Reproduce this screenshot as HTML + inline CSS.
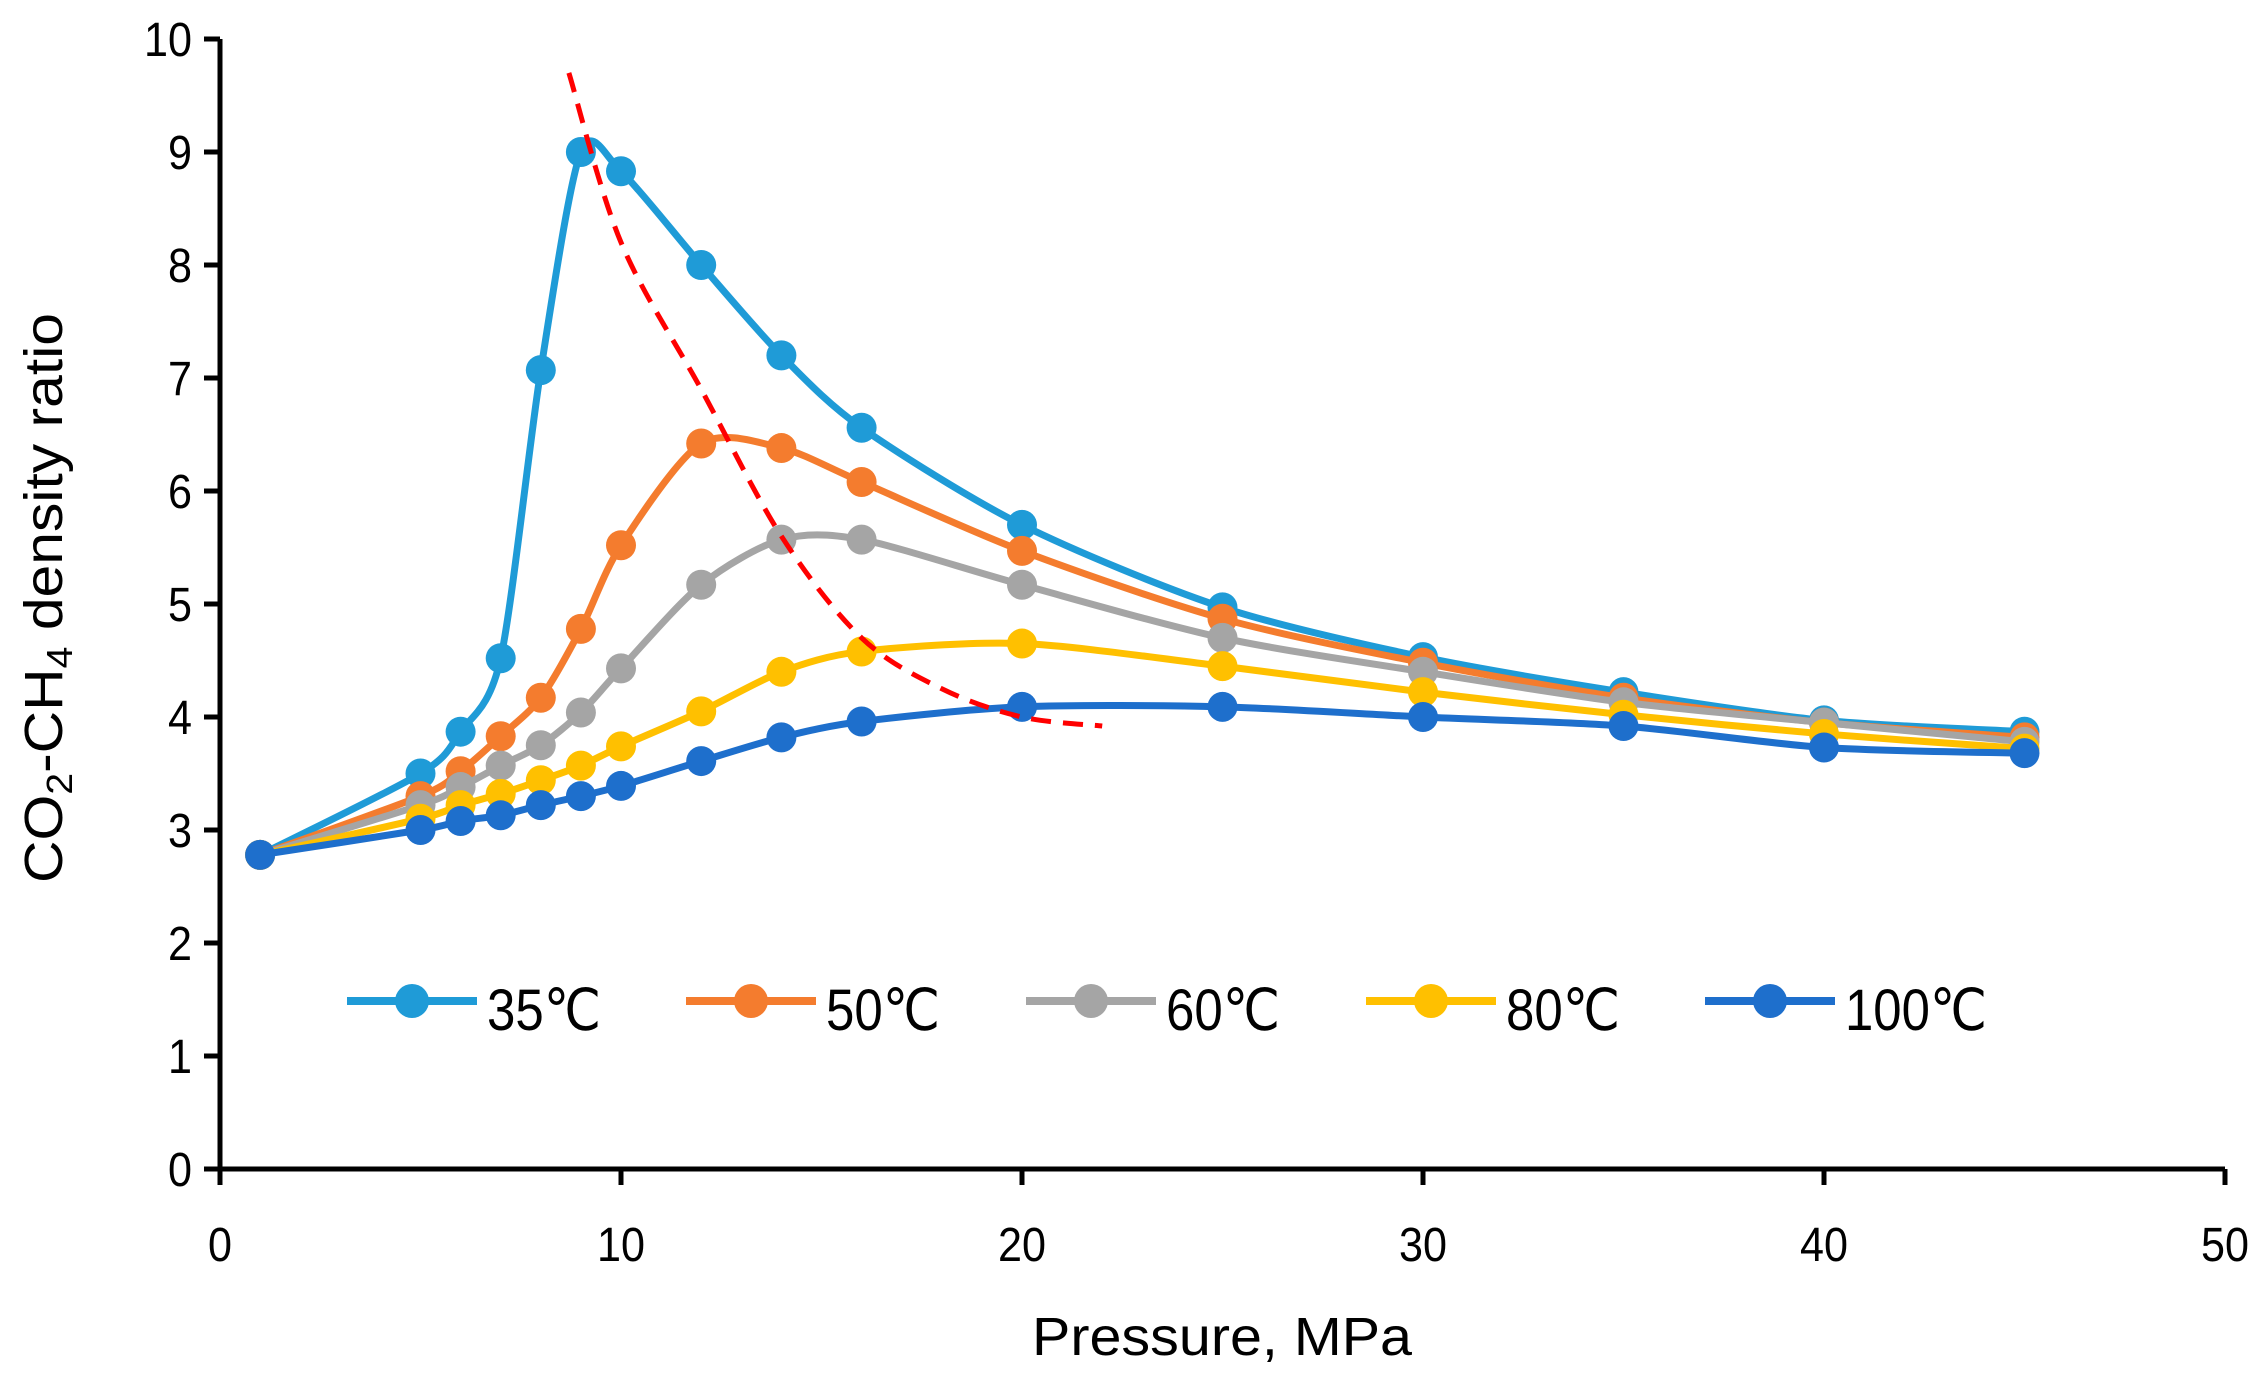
<!DOCTYPE html>
<html><head><meta charset="utf-8"><style>
html,body{margin:0;padding:0;background:#fff;}
svg{display:block;font-family:"Liberation Sans","DejaVu Sans",sans-serif;}
</style></head><body>
<svg id="chart" width="2266" height="1387" viewBox="0 0 2266 1387" xmlns="http://www.w3.org/2000/svg">
<g id="axes"></g>
<g id="series"></g>
<g id="legend"></g>
</svg>
<script>
const xTicks = [0,10,20,30,40,50];
const yTicks = [0,1,2,3,4,5,6,7,8,9,10];
const pressures = [1,5,6,7,8,9,10,12,14,16,20,25,30,35,40,45];
const s35 = [2.78,3.5,3.87,4.52,7.07,9.0,8.83,8.0,7.2,6.56,5.7,4.97,4.53,4.22,3.97,3.87];
const s50 = [2.78,3.3,3.52,3.83,4.17,4.78,5.52,6.42,6.38,6.08,5.47,4.87,4.48,4.17,3.95,3.82];
const s60 = [2.78,3.22,3.38,3.57,3.75,4.04,4.43,5.17,5.57,5.57,5.17,4.7,4.4,4.13,3.95,3.78];
const s80 = [2.78,3.1,3.22,3.32,3.44,3.57,3.74,4.05,4.4,4.58,4.65,4.45,4.22,4.02,3.85,3.72];
const s100 = [2.78,3.0,3.08,3.13,3.22,3.3,3.39,3.61,3.82,3.96,4.09,4.09,4.0,3.92,3.73,3.68];
const seriesNames = ["35℃","50℃","60℃","80℃","100℃"];
const dashX = [8.7,10,12,14,16,18,20,22];
const dashY = [9.7,8.2,6.9,5.6,4.7,4.25,4.0,3.92];

const NS="http://www.w3.org/2000/svg";
const X0=220,X1=2225,Y0=1169,Y1=39;
const sx=v=>X0+(v-0)/(50-0)*(X1-X0);
const sy=v=>Y0-(v-0)/(10-0)*(Y0-Y1);
function mk(tag,attrs,parent){const e=document.createElementNS(NS,tag);for(const k in attrs)e.setAttribute(k,attrs[k]);parent.appendChild(e);return e;}
const axes=document.getElementById('axes');
let e=mk('line',{x1:X0-2,y1:Y0,x2:X1,y2:Y0,stroke:'#000','stroke-width':5},axes);


e=mk('line',{x1:X0,y1:Y0+2,x2:X0,y2:Y1,stroke:'#000','stroke-width':5},axes);


const TF=48;
xTicks.forEach(t=>{
 let l=mk('line',{x1:sx(t),y1:Y0,x2:sx(t),y2:Y0+16,stroke:'#000','stroke-width':5},axes);
 
 
 let s=String(t);
 let tx=mk('text',{x:sx(t),y:Y0+92,'text-anchor':'middle','font-size':TF,fill:'#000',textLength:s.length*TF*0.5,lengthAdjust:'spacingAndGlyphs'},axes);
 tx.textContent=s;
 
 
});
yTicks.forEach(t=>{
 let l=mk('line',{x1:X0-16,y1:sy(t),x2:X0,y2:sy(t),stroke:'#000','stroke-width':5},axes);
 
 
 let s=String(t);
 let tx=mk('text',{x:X0-28,y:sy(t)+17,'text-anchor':'end','font-size':TF,fill:'#000',textLength:s.length*TF*0.5,lengthAdjust:'spacingAndGlyphs'},axes);
 tx.textContent=s;
 
 
});
let xt=mk('text',{x:1222,y:1355,'text-anchor':'middle','font-size':54,fill:'#000',textLength:380,lengthAdjust:'spacingAndGlyphs'},axes);
xt.textContent='Pressure, MPa';


let yt=mk('text',{transform:'translate(62,598) rotate(-90)','text-anchor':'middle','font-size':54,fill:'#000',textLength:570,lengthAdjust:'spacingAndGlyphs'},axes);
yt.innerHTML='CO<tspan font-size="36" dy="10">2</tspan><tspan dy="-10">-CH</tspan><tspan font-size="36" dy="10">4</tspan><tspan dy="-10"> density ratio</tspan>';



function smooth(pts,k){
 let d='M'+pts[0][0]+','+pts[0][1];
 for(let i=0;i<pts.length-1;i++){
  const p0=pts[Math.max(i-1,0)],p1=pts[i],p2=pts[i+1],p3=pts[Math.min(i+2,pts.length-1)];
  const c1=[p1[0]+(p2[0]-p0[0])*k,p1[1]+(p2[1]-p0[1])*k];
  const c2=[p2[0]-(p3[0]-p1[0])*k,p2[1]-(p3[1]-p1[1])*k];
  d+=' C'+c1[0]+','+c1[1]+' '+c2[0]+','+c2[1]+' '+p2[0]+','+p2[1];
 }
 return d;
}
const colors=['#1f9bd7','#f47c2e','#a5a5a5','#ffc000','#1e6fcc'];
const allSeries=[s35,s50,s60,s80,s100];
const sg=document.getElementById('series');
allSeries.forEach((s,i)=>{
 const g=mk('g',{},sg);
 
 
 const pts=pressures.map((p,j)=>[sx(p),sy(s[j])]);
 const path=mk('path',{d:smooth(pts,0.14),fill:'none',stroke:colors[i],'stroke-width':7,'stroke-linejoin':'round'},g);
 
 
 pts.forEach(p=>{
  const c=mk('circle',{cx:p[0],cy:p[1],r:15,fill:colors[i]},g);
  
  
 });
});
const dpts=dashX.map((x,j)=>[sx(x),sy(dashY[j])]);
const dp=mk('path',{d:smooth(dpts,0.16),fill:'none',stroke:'#ff0000','stroke-width':5,'stroke-dasharray':'20,12'},sg);



const lg=document.getElementById('legend');
const lx=[347,686,1026,1366,1705];
seriesNames.forEach((n,i)=>{
 const g=mk('g',{},lg);
 
 
 mk('line',{x1:lx[i],y1:1001,x2:lx[i]+130,y2:1001,stroke:colors[i],'stroke-width':8},g);
 mk('circle',{cx:lx[i]+65,cy:1001,r:17,fill:colors[i]},g);
 const t=mk('text',{x:lx[i]+140,y:1030,'font-size':58,fill:'#000',textLength:n.length*28+30,lengthAdjust:'spacingAndGlyphs'},g);
 t.textContent=n;
});
</script>
</body></html>
